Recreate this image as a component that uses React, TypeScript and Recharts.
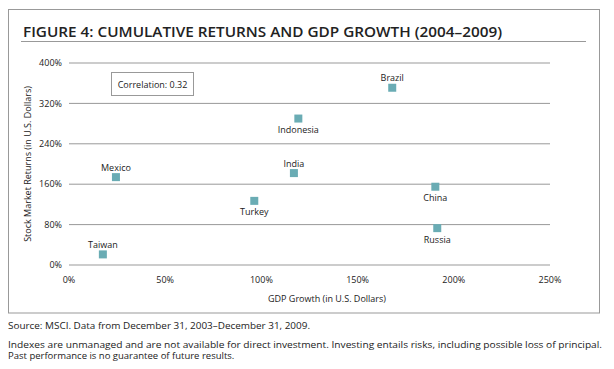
import React from "react";
import { ScatterChart, Scatter, XAxis, YAxis, CartesianGrid } from "recharts";

const countries = ["Taiwan", "Mexico", "Turkey", "India", "Indonesia", "Brazil", "China", "Russia"];
const gdpGrowth = [17.6, 24.4, 96.3, 116.9, 119.2, 168, 190.4, 191.4];
const stockReturns = [21, 174, 127, 182, 290, 351, 155, 73];
const xTicks = [0, 50, 100, 150, 200, 250];
const yTicks = [0, 80, 160, 240, 320, 400];
const labelBelow = ["Turkey", "Indonesia", "China", "Russia"];

const title = "FIGURE 4: CUMULATIVE RETURNS AND GDP GROWTH (2004\u20132009)";
const xTitle = "GDP Growth (in U.S. Dollars)";
const yTitle = "Stock Market Returns (in U.S. Dollars)";
const correlationText = "Correlation: 0.32";
const sourceText = "Source: MSCI. Data from December 31, 2003\u2013December 31, 2009.";
const disclaimer1 =
  "Indexes are unmanaged and are not available for direct investment. Investing entails risks, including possible loss of principal.";
const disclaimer2 = "Past performance is no guarantee of future results.";

const data = countries.map((name, i) => ({ name, x: gdpGrowth[i], y: stockReturns[i] }));

const FONT = "'Open Sans', 'Noto Sans', sans-serif";
const TEXT = "#222";
const GRID = "#999";
const MARK = "#6aacb4";

const Marker = (props: any) => {
  const { cx, cy, payload } = props;
  if (cx == null || cy == null) return null;
  const below = labelBelow.includes(payload.name);
  return (
    <g>
      <rect x={cx - 4} y={cy - 4} width={8} height={8} fill={MARK} />
      <text
        x={cx}
        y={below ? cy + 11 : cy - 10}
        textAnchor="middle"
        dominantBaseline="central"
        fontSize={9}
        fill={TEXT}
        fontFamily={FONT}
      >
        {payload.name}
      </text>
    </g>
  );
};

export default function App() {
  return (
    <div
      style={{
        position: "absolute",
        left: 0,
        top: 0,
        width: 614,
        height: 369,
        background: "#fff",
        overflow: "hidden",
      }}
    >
      <div style={{ position: "absolute", left: 0, top: 0 }}>
        <ScatterChart
          width={614}
          height={313}
          margin={{ top: 63, right: 64, bottom: 18, left: 29 }}
        >
          <CartesianGrid horizontal={true} vertical={false} stroke={GRID} strokeWidth={1} />
          <XAxis
            type="number"
            dataKey="x"
            domain={[0, 250]}
            ticks={xTicks}
            interval={0}
            axisLine={false}
            tickLine={false}
            tickSize={0}
            tickMargin={12}
            height={30}
            tick={{ fontSize: 9, fill: TEXT, fontFamily: FONT }}
            tickFormatter={(v: number) => `${v}%`}
          />
          <YAxis
            type="number"
            dataKey="y"
            domain={[0, 400]}
            ticks={yTicks}
            interval={0}
            axisLine={false}
            tickLine={false}
            tickSize={0}
            tickMargin={7}
            width={40}
            tick={{ fontSize: 9, fill: TEXT, fontFamily: FONT }}
            tickFormatter={(v: number) => `${v}%`}
          />
          <Scatter data={data} shape={Marker} isAnimationActive={false} />
        </ScatterChart>
      </div>
      <svg
        width={614}
        height={369}
        style={{ position: "absolute", left: 0, top: 0, pointerEvents: "none" }}
      >
        <rect x={8.5} y={9.5} width={591} height={303.5} fill="none" stroke={GRID} strokeWidth={1} />
        <text
          x={23}
          y={37}
          fontFamily={FONT}
          fontWeight={600}
          fontSize={14}
          fill={TEXT}
          textLength={479}
          lengthAdjust="spacingAndGlyphs"
        >
          {title}
        </text>
        <line x1={21} x2={586} y1={41.5} y2={41.5} stroke={GRID} strokeWidth={1} />
        <text
          transform="translate(27,164) rotate(-90)"
          textAnchor="middle"
          dominantBaseline="central"
          fontFamily={FONT}
          fontSize={9}
          fill={TEXT}
        >
          {yTitle}
        </text>
        <text
          x={327}
          y={298}
          textAnchor="middle"
          dominantBaseline="central"
          fontFamily={FONT}
          fontSize={9}
          fill={TEXT}
        >
          {xTitle}
        </text>
        <rect x={111.5} y={72.5} width={82} height={23} fill="#fff" stroke={GRID} strokeWidth={1} />
        <text
          x={152.5}
          y={84}
          textAnchor="middle"
          dominantBaseline="central"
          fontFamily={FONT}
          fontSize={9}
          fill={TEXT}
        >
          {correlationText}
        </text>
        <text x={8} y={328.5} fontFamily={FONT} fontSize={9.5} fill={TEXT} textLength={302} lengthAdjust="spacingAndGlyphs">
          {sourceText}
        </text>
        <text x={8} y={347.5} fontFamily={FONT} fontSize={9.5} fill={TEXT} textLength={594} lengthAdjust="spacingAndGlyphs">
          {disclaimer1}
        </text>
        <text x={8} y={359} fontFamily={FONT} fontSize={9.5} fill={TEXT}>
          {disclaimer2}
        </text>
      </svg>
    </div>
  );
}
